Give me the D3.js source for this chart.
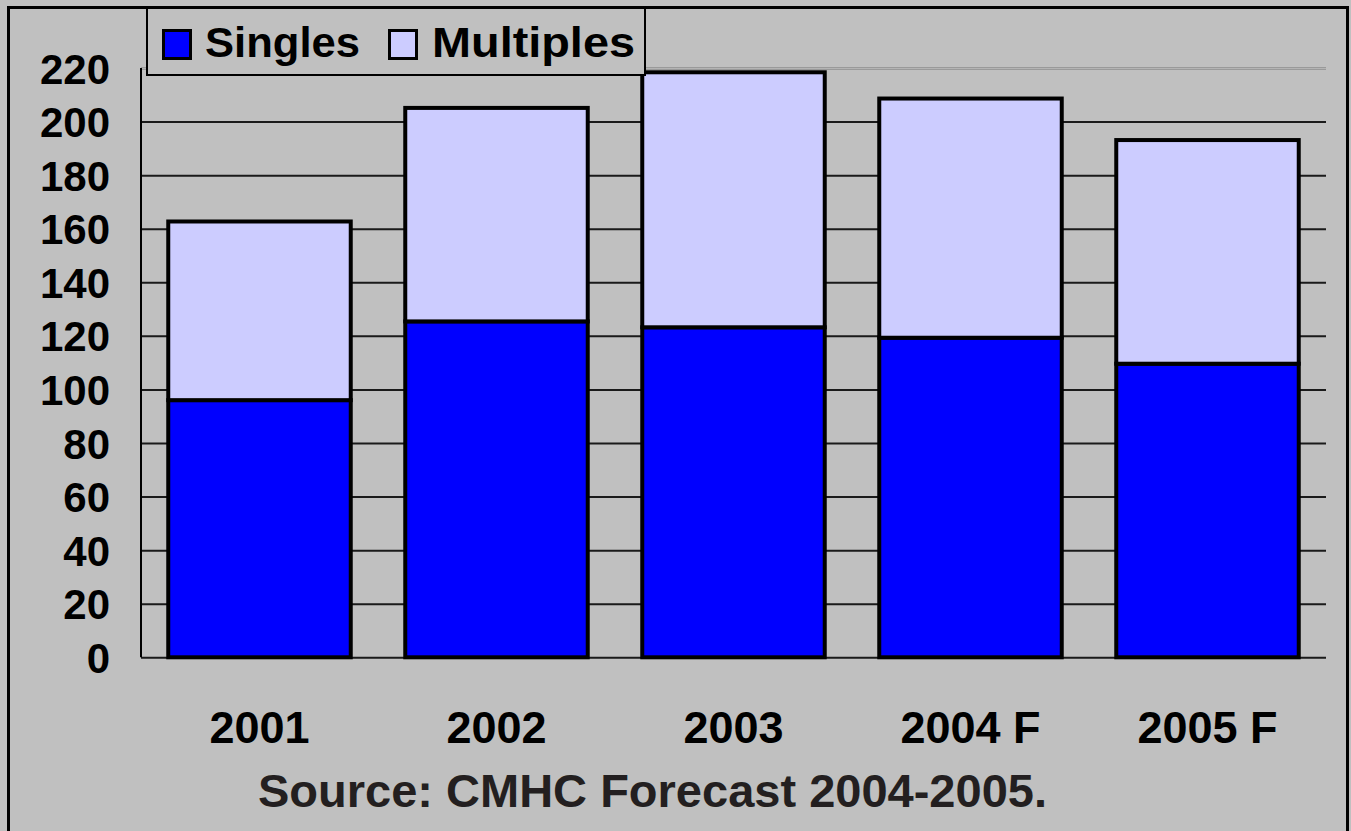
<!DOCTYPE html>
<html>
<head>
<meta charset="utf-8">
<script src="https://cdn.jsdelivr.net/npm/d3@7"></script>
<style>
  body { margin: 0; background: #ffffff; }
  svg { display: block; }
  text { font-family: "Liberation Sans", Arial, sans-serif; font-weight: bold; }
</style>
</head>
<body>
<svg id="chart"></svg>
<script>
// Housing starts, singles vs multiples (thousands)
const years = ['2001', '2002', '2003', '2004 F', '2005 F'];
const singles = [96.0, 125.4, 123.2, 119.3, 109.6];
const multiples = [66.7, 79.7, 95.2, 89.3, 83.5];
const yTicks = [0, 20, 40, 60, 80, 100, 120, 140, 160, 180, 200, 220];
const seriesNames = ['Singles', 'Multiples'];
const seriesColors = ['#0000ff', '#ccccff'];
const sourceNote = 'Source: CMHC Forecast 2004-2005.';

const W = 1351, H = 831;
const plot = { left: 141, right: 1326, top: 68, bottom: 657.3 };

const svg = d3.select('#chart').attr('width', W).attr('height', H);

svg.append('rect')
    .attr('width', W).attr('height', H)
    .attr('fill', '#c0c0c0');

const x = d3.scaleBand()
    .domain(years)
    .range([plot.left, plot.right])
    .paddingInner(0.23)
    .paddingOuter(0.115);

const y = d3.scaleLinear()
    .domain([0, 220])
    .range([plot.bottom, plot.top]);

// gridlines
const grid = svg.append('g')
    .attr('transform', `translate(${plot.left},0)`)
    .call(d3.axisLeft(y)
        .tickValues(yTicks)
        .tickSize(-(plot.right - plot.left))
        .tickFormat(''));
grid.select('.domain').remove();
grid.selectAll('line')
    .attr('stroke', d => d === 220 ? '#9a9a9a' : '#1a1a1a')
    .attr('stroke-width', d => d === 220 ? 3 : 2);
grid.selectAll('.tick')
    .filter(d => d === 220)
    .append('line')
    .attr('x2', plot.right - plot.left)
    .attr('stroke', '#b4b4b4')
    .attr('stroke-width', 1);

// stacked bars
const rows = years.map((yr, i) => ({ year: yr, Singles: singles[i], Multiples: multiples[i] }));
const stack = d3.stack().keys(seriesNames)(rows);

svg.append('g')
    .selectAll('g')
    .data(stack)
    .join('g')
    .attr('fill', (d, i) => seriesColors[i])
    .selectAll('rect')
    .data(d => d)
    .join('rect')
    .attr('x', d => x(d.data.year))
    .attr('y', d => y(d[1]))
    .attr('width', x.bandwidth())
    .attr('height', d => y(d[0]) - y(d[1]))
    .attr('stroke', '#000')
    .attr('stroke-width', 4);

// y axis line
svg.append('line')
    .attr('x1', plot.left).attr('x2', plot.left)
    .attr('y1', y(220)).attr('y2', y(0))
    .attr('stroke', '#000')
    .attr('stroke-width', 2);

// y tick labels
const yAxis = svg.append('g')
    .attr('transform', `translate(${plot.left},0)`)
    .call(d3.axisLeft(y).tickValues(yTicks).tickSize(0).tickPadding(31));
yAxis.select('.domain').remove();
yAxis.selectAll('text')
    .attr('font-family', null)
    .attr('font-size', 42)
    .attr('fill', '#000')
    .attr('dy', 15);

// x labels
const xAxis = svg.append('g')
    .attr('transform', `translate(0,${plot.bottom})`)
    .call(d3.axisBottom(x).tickSize(0));
xAxis.select('.domain').remove();
xAxis.selectAll('text')
    .attr('font-family', null)
    .attr('font-size', 45)
    .attr('fill', '#000')
    .attr('y', 743 - plot.bottom)
    .attr('dy', 0);

// source note
svg.append('text')
    .attr('x', 258)
    .attr('y', 807)
    .attr('font-size', 47)
    .attr('fill', '#231f20')
    .attr('textLength', 789)
    .attr('lengthAdjust', 'spacingAndGlyphs')
    .text(sourceNote);

// legend
const legend = svg.append('g');
legend.append('rect')
    .attr('x', 147).attr('y', 7)
    .attr('width', 498).attr('height', 68)
    .attr('fill', '#c0c0c0')
    .attr('stroke', '#000')
    .attr('stroke-width', 2);

const legendItems = [
    { name: seriesNames[0], color: seriesColors[0], sx: 163.5, tx: 205, len: 155 },
    { name: seriesNames[1], color: seriesColors[1], sx: 389.5, tx: 432, len: 203 }
];
const item = legend.selectAll('.item')
    .data(legendItems)
    .join('g')
    .attr('class', 'item');
item.append('rect')
    .attr('x', d => d.sx).attr('y', 30.5)
    .attr('width', 27).attr('height', 28)
    .attr('fill', d => d.color)
    .attr('stroke', '#000')
    .attr('stroke-width', 3);
item.append('text')
    .attr('x', d => d.tx)
    .attr('y', 57)
    .attr('font-size', 42)
    .attr('fill', '#000')
    .attr('textLength', d => d.len)
    .attr('lengthAdjust', 'spacingAndGlyphs')
    .text(d => d.name);

// outer frame
svg.append('rect')
    .attr('x', 8.5).attr('y', 7.5)
    .attr('width', 1339).attr('height', 900)
    .attr('fill', 'none')
    .attr('stroke', '#000')
    .attr('stroke-width', 3);
</script>
</body>
</html>
